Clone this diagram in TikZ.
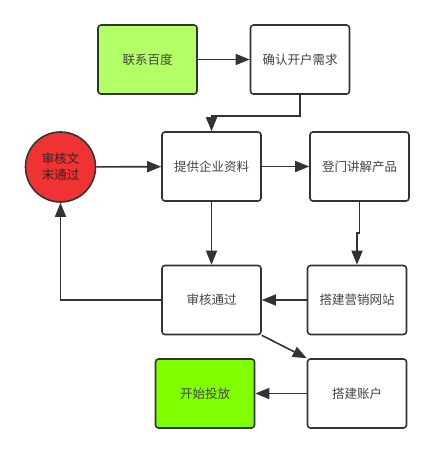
\documentclass[tikz,border=0pt]{standalone}
\usepackage{fontspec}
\newfontfamily\cjk{Noto Sans CJK SC}
\usepackage{xcolor}
\usepackage{tikz}
\usetikzlibrary{arrows.meta}
\definecolor{linegray}{HTML}{333333}
\definecolor{textgray}{HTML}{444444}
\definecolor{lightgreen}{HTML}{B2FF66}
\definecolor{brightgreen}{HTML}{80FF00}
\definecolor{stopred}{HTML}{F03232}

\begin{document}
\begin{tikzpicture}[x=1pt, y=-1pt,
  box/.style={rectangle, rounded corners=3pt, line width=1.6pt, draw=linegray,
    fill=white, minimum width=99pt, minimum height=69pt, text=textgray,
    font=\cjk\fontsize{12.5}{16}\selectfont},
  stopnode/.style={circle, line width=1.6pt, draw=linegray, fill=stopred,
    minimum size=70pt, inner sep=0pt, align=center, text=linegray!80!black,
    font=\cjk\fontsize{12.5}{16}\selectfont},
  flow/.style={line width=1.6pt, draw=linegray, -{Triangle[length=14pt, width=11pt]}}]
\useasboundingbox (0,0) rectangle (435,454);

\begin{scope}[every node/.style={box}]
  \node[fill=lightgreen] (contact) at (147.5,59.5) {联系百度};
  \node (confirm) at (300,59.5) {确认开户需求};
  \node (provide) at (211.5,166.5) {提供企业资料};
  \node (visit) at (359.5,166.5) {登门讲解产品};
  \node (pass) at (211.5,300) {审核通过};
  \node (site) at (357,300) {搭建营销网站};
  \node[fill=brightgreen] (start) at (205,393.5) {开始投放};
  \node (account) at (357,393.5) {搭建账户};
\end{scope}
\node[stopnode] (reject) at (60.5,167) {审核文\\末通过};

\path[flow] (contact) -- (confirm);
\path[flow] (confirm.south) -- ++(0,21) -| (provide.north);
\path[flow] (reject) -- (provide);
\path[flow] (provide) -- (visit);
\path[flow] (provide) -- (pass);
\path[flow] (visit.south) -- ++(0,31) -| (site.north);
\path[flow] (site) -- (pass);
\path[flow] (pass.west) -| (reject.south);
\path[flow] (pass.south east) -- (account.north west);
\path[flow] (account) -- (start);

\end{tikzpicture}
\end{document}
